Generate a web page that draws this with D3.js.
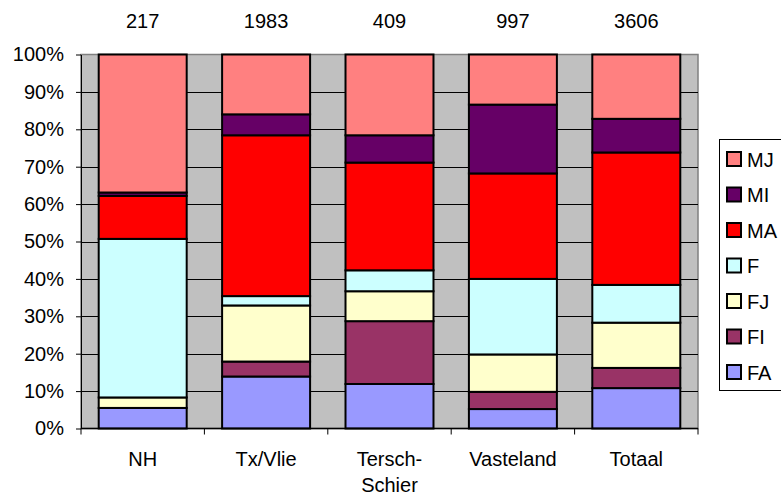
<!DOCTYPE html>
<html>
<head>
<meta charset="utf-8">
<script src="https://cdn.jsdelivr.net/npm/d3@7"></script>
<style>
  body { margin: 0; background: #fff; }
  svg text { font-family: "Liberation Sans", Arial, sans-serif; fill: #000; }
</style>
</head>
<body>
<script>
// data (percent of each column)
const categories = ["NH", "Tx/Vlie", "Tersch-\nSchier", "Vasteland", "Totaal"]
const counts = [217, 1983, 409, 997, 3606]
const seriesNames = ["FA", "FI", "FJ", "F", "MA", "MI", "MJ"]
const FA = [5.5, 13.9, 11.9, 5.2, 10.8]
const FI = [0.0, 4.0, 16.8, 4.6, 5.4]
const FJ = [2.8, 15.0, 8.0, 10.0, 12.1]
const F  = [42.4, 2.5, 5.6, 20.2, 10.1]
const MA = [11.5, 43.0, 28.8, 28.2, 35.4]
const MI = [0.9, 5.6, 7.3, 18.4, 9.0]
const MJ = [36.9, 16.0, 21.6, 13.4, 17.2]
const yTicks = [0, 10, 20, 30, 40, 50, 60, 70, 80, 90, 100]

const colors = {FA: "#9999ff", FI: "#993366", FJ: "#ffffcc", F: "#ccffff",
                MA: "#ff0000", MI: "#660066", MJ: "#ff8080"}

const w = 781
const h = 495
const plotLeft = 81, plotRight = 698, plotTop = 54.5, plotBottom = 428.5

const rows = categories.map(function(c, i) {
    return {cat: c, FA: FA[i], FI: FI[i], FJ: FJ[i], F: F[i], MA: MA[i], MI: MI[i], MJ: MJ[i]}
})

const svg = d3.select("body").append("svg")
    .attr("width", w)
    .attr("height", h)

const x = d3.scaleBand()
    .domain(categories)
    .range([plotLeft, plotRight])
    .paddingInner(0.287)
    .paddingOuter(0.1435)

const y = d3.scaleLinear().domain([0, 100]).range([plotBottom, plotTop])

// plot area
svg.append("rect")
    .attr("x", plotLeft).attr("y", plotTop)
    .attr("width", plotRight - plotLeft).attr("height", plotBottom - plotTop)
    .attr("fill", "#c0c0c0")
    .attr("stroke", "#808080")
    .attr("stroke-width", 1.5)

// gridlines
svg.append("g").selectAll("line")
    .data(yTicks.slice(1, -1))
    .enter().append("line")
    .attr("x1", plotLeft).attr("x2", plotRight)
    .attr("y1", function(d) { return Math.round(y(d)) + 0.5 })
    .attr("y2", function(d) { return Math.round(y(d)) + 0.5 })
    .attr("stroke", "#000")
    .attr("stroke-width", 1)

// stacked bars
const stacked = d3.stack().keys(seriesNames)(rows)

svg.append("g").selectAll("g")
    .data(stacked)
    .enter().append("g")
    .attr("fill", function(d) { return colors[d.key] })
    .selectAll("rect")
    .data(function(d) { return d })
    .enter().append("rect")
    .attr("x", function(d) { return x(d.data.cat) })
    .attr("y", function(d) { return y(d[1]) })
    .attr("width", x.bandwidth())
    .attr("height", function(d) { return y(d[0]) - y(d[1]) })
    .attr("stroke", "#000")
    .attr("stroke-width", 2)

// y axis
const yAxis = svg.append("g")
    .attr("transform", "translate(" + plotLeft + ",0)")
    .call(d3.axisLeft(y).tickValues(yTicks)
        .tickFormat(function(d) { return d + "%" })
        .tickSize(5).tickSizeOuter(0).tickPadding(12))
yAxis.selectAll("text")
    .attr("font-size", "20px")
    .attr("font-family", "Liberation Sans, Arial, sans-serif")
    .attr("fill", "#000")
yAxis.selectAll("line").attr("stroke", "#000")
yAxis.select(".domain").attr("stroke", "#000")

// x axis line and tick marks between categories
svg.append("line")
    .attr("x1", plotLeft).attr("x2", plotRight)
    .attr("y1", plotBottom).attr("y2", plotBottom)
    .attr("stroke", "#000").attr("stroke-width", 1.5)

svg.append("g").selectAll("line")
    .data(d3.range(categories.length + 1))
    .enter().append("line")
    .attr("x1", function(i) { return plotLeft + i * x.step() })
    .attr("x2", function(i) { return plotLeft + i * x.step() })
    .attr("y1", plotBottom).attr("y2", plotBottom + 6)
    .attr("stroke", "#000")

// category labels
const catLabels = svg.append("g").selectAll("text")
    .data(categories)
    .enter().append("text")
    .attr("x", function(d) { return x(d) + x.bandwidth() / 2 })
    .attr("y", 466)
    .attr("text-anchor", "middle")
    .attr("font-size", "20px")

catLabels.selectAll("tspan")
    .data(function(d) { return d.split("\n") })
    .enter().append("tspan")
    .attr("x", function() { return d3.select(this.parentNode).attr("x") })
    .attr("dy", function(d, i) { return i === 0 ? 0 : 26 })
    .text(function(d) { return d })

// counts above bars
svg.append("g").selectAll("text")
    .data(counts)
    .enter().append("text")
    .attr("x", function(d, i) { return x(categories[i]) + x.bandwidth() / 2 })
    .attr("y", 28)
    .attr("text-anchor", "middle")
    .attr("font-size", "20px")
    .text(function(d) { return d })

// legend
const legendKeys = seriesNames.slice().reverse()
svg.append("rect")
    .attr("x", 719.5).attr("y", 139.5)
    .attr("width", 80).attr("height", 251)
    .attr("fill", "#fff").attr("stroke", "#000")

const item = svg.append("g").selectAll("g")
    .data(legendKeys)
    .enter().append("g")
    .attr("transform", function(d, i) { return "translate(727," + (159 + i * 35.5) + ")" })

item.append("rect")
    .attr("x", 0).attr("y", -7)
    .attr("width", 14).attr("height", 14)
    .attr("fill", function(d) { return colors[d] })
    .attr("stroke", "#000").attr("stroke-width", 2)

item.append("text")
    .attr("x", 20).attr("y", 7.5)
    .attr("font-size", "20px")
    .text(function(d) { return d })
</script>
</body>
</html>
